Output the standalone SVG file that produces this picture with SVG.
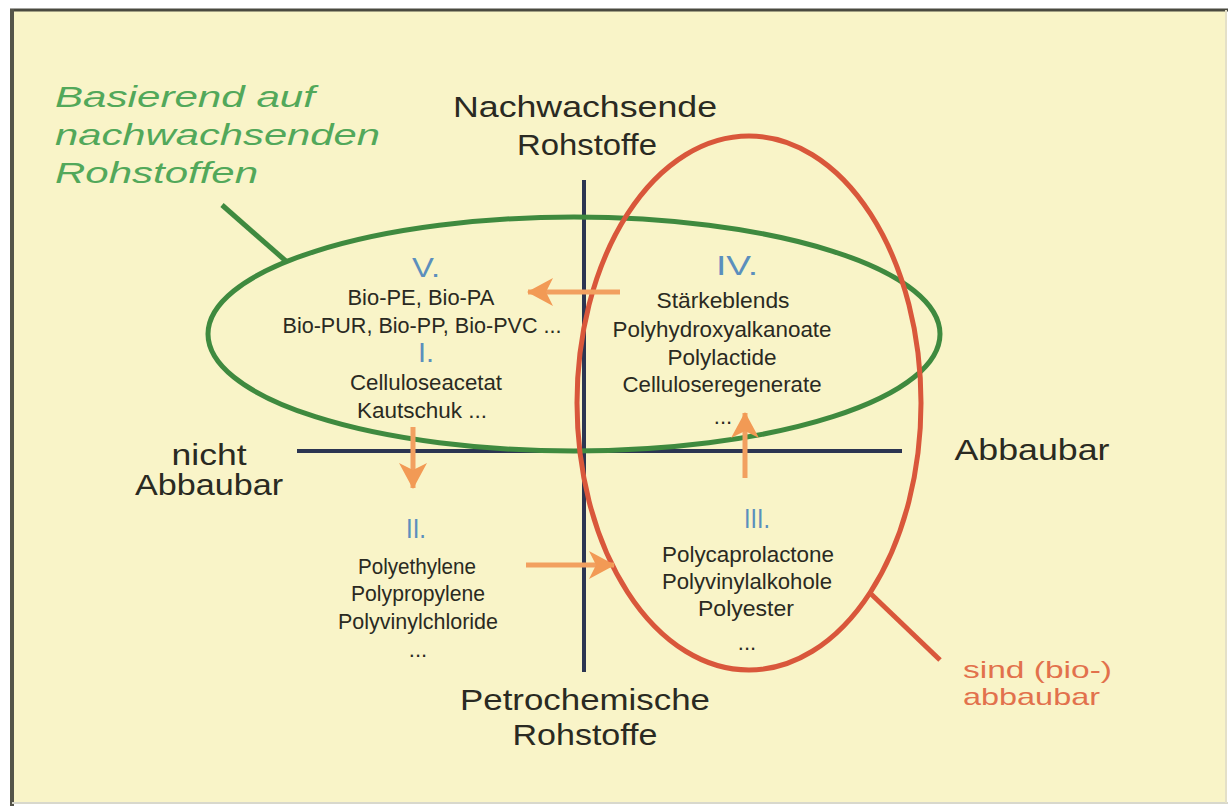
<svg xmlns="http://www.w3.org/2000/svg" width="1228" height="807" viewBox="0 0 1228 807">
<defs>
<style>
.ax{font-family:"Liberation Sans",Arial,sans-serif;font-size:30px;fill:#2a2a22;text-anchor:middle}
.it{font-family:"Liberation Sans Narrow","Liberation Sans",Arial,sans-serif;font-size:22px;fill:#2a2a22;text-anchor:middle}
.num{font-family:"Liberation Sans",Arial,sans-serif;font-size:28px;fill:#5b8fbd;text-anchor:middle}
.grn{font-family:"Liberation Sans",Arial,sans-serif;font-size:30px;font-style:italic;fill:#52a85a}
.red{font-family:"Liberation Sans",Arial,sans-serif;font-size:24px;fill:#e2714c}
.axis{stroke:#2c3552;stroke-width:4;fill:none}
.arr{stroke:#f2a060;stroke-width:5;fill:none;marker-end:url(#ah)}
</style>
<marker id="ah" viewBox="0 0 26 28" refX="25" refY="14" markerWidth="26" markerHeight="28" markerUnits="userSpaceOnUse" orient="auto">
<path d="M0,0 L26,14 L0,28 L7,14 z" fill="#f29a55"/>
</marker>
</defs>
<rect x="0" y="0" width="1228" height="807" fill="#ffffff"/>
<rect x="12" y="10" width="1214" height="793" fill="#f9f4c8"/>
<line x1="10" y1="10" x2="1228" y2="10" stroke="#4a4a40" stroke-width="3"/>
<line x1="12" y1="9" x2="12" y2="806" stroke="#55554a" stroke-width="4"/>
<line x1="12" y1="803" x2="1228" y2="803" stroke="#d8d8cc" stroke-width="2"/>
<line x1="1226" y1="10" x2="1226" y2="803" stroke="#e4e0c8" stroke-width="2"/>

<g id="axes">
<line class="axis" x1="584" y1="180" x2="584" y2="672"/>
<line class="axis" x1="297" y1="451" x2="902" y2="451"/>
</g>

<g id="set-renewable">
<ellipse cx="574" cy="334" rx="366" ry="117" fill="none" stroke="#3f8a3f" stroke-width="5"/>
</g>
<g id="set-degradable">
<ellipse cx="749" cy="403" rx="172" ry="267" fill="none" stroke="#d9573b" stroke-width="5"/>
</g>

<g id="connectors">
<line x1="222" y1="205" x2="287" y2="262" stroke="#3f8a3f" stroke-width="5"/>
<line x1="870" y1="593" x2="940" y2="660" stroke="#d9573b" stroke-width="5"/>
<line class="arr" x1="620" y1="292" x2="528" y2="292"/>
<line class="arr" x1="413" y1="427" x2="413" y2="488"/>
<line class="arr" x1="526" y1="565" x2="614" y2="565"/>
<line class="arr" x1="745" y1="478" x2="745" y2="413"/>
</g>

<g id="label-renewable">
<text class="grn" x="55" y="107" textLength="260" lengthAdjust="spacingAndGlyphs">Basierend auf</text>
<text class="grn" x="55" y="145" textLength="325" lengthAdjust="spacingAndGlyphs">nachwachsenden</text>
<text class="grn" x="55" y="183" textLength="203" lengthAdjust="spacingAndGlyphs">Rohstoffen</text>
</g>
<g id="label-degradable">
<text class="red" x="963" y="678" textLength="149" lengthAdjust="spacingAndGlyphs">sind (bio-)</text>
<text class="red" x="963" y="705" textLength="137" lengthAdjust="spacingAndGlyphs">abbaubar</text>
</g>

<g id="axis-top">
<text class="ax" x="585" y="117" textLength="264" lengthAdjust="spacingAndGlyphs">Nachwachsende</text>
<text class="ax" x="587" y="155" textLength="140" lengthAdjust="spacingAndGlyphs">Rohstoffe</text>
</g>
<g id="axis-bottom">
<text class="ax" x="585" y="710" textLength="250" lengthAdjust="spacingAndGlyphs">Petrochemische</text>
<text class="ax" x="585" y="745" textLength="145" lengthAdjust="spacingAndGlyphs">Rohstoffe</text>
</g>
<g id="axis-left">
<text class="ax" x="209" y="465" textLength="75" lengthAdjust="spacingAndGlyphs">nicht</text>
<text class="ax" x="209" y="495" textLength="148" lengthAdjust="spacingAndGlyphs">Abbaubar</text>
</g>
<g id="axis-right">
<text class="ax" x="1032" y="460" textLength="155" lengthAdjust="spacingAndGlyphs">Abbaubar</text>
</g>

<g id="node-V-I">
<text class="num" x="426" y="277" textLength="28" lengthAdjust="spacingAndGlyphs">V.</text>
<text class="it" x="421" y="305" textLength="147" lengthAdjust="spacingAndGlyphs">Bio-PE, Bio-PA</text>
<text class="it" x="422" y="333" textLength="279" lengthAdjust="spacingAndGlyphs">Bio-PUR, Bio-PP, Bio-PVC ...</text>
<text class="num" x="426" y="362" textLength="16" lengthAdjust="spacingAndGlyphs">I.</text>
<text class="it" x="426" y="390" textLength="152" lengthAdjust="spacingAndGlyphs">Celluloseacetat</text>
<text class="it" x="422" y="418" textLength="130" lengthAdjust="spacingAndGlyphs">Kautschuk ...</text>
</g>

<g id="node-IV">
<text class="num" x="737" y="275" textLength="42" lengthAdjust="spacingAndGlyphs">IV.</text>
<text class="it" x="723" y="308" textLength="133" lengthAdjust="spacingAndGlyphs">Stärkeblends</text>
<text class="it" x="722" y="337" textLength="219" lengthAdjust="spacingAndGlyphs">Polyhydroxyalkanoate</text>
<text class="it" x="722" y="365" textLength="109" lengthAdjust="spacingAndGlyphs">Polylactide</text>
<text class="it" x="722" y="392" textLength="199" lengthAdjust="spacingAndGlyphs">Celluloseregenerate</text>
<text class="it" x="723" y="424" font-size="14">...</text>
</g>

<g id="node-II">
<text class="num" x="416" y="538" textLength="20" lengthAdjust="spacingAndGlyphs">II.</text>
<text class="it" x="417" y="574" textLength="118" lengthAdjust="spacingAndGlyphs">Polyethylene</text>
<text class="it" x="418" y="601" textLength="134" lengthAdjust="spacingAndGlyphs">Polypropylene</text>
<text class="it" x="418" y="629" textLength="160" lengthAdjust="spacingAndGlyphs">Polyvinylchloride</text>
<text class="it" x="418" y="657" font-size="14">...</text>
</g>

<g id="node-III">
<text class="num" x="757" y="528" textLength="26" lengthAdjust="spacingAndGlyphs">III.</text>
<text class="it" x="748" y="562" textLength="172" lengthAdjust="spacingAndGlyphs">Polycaprolactone</text>
<text class="it" x="747" y="589" textLength="170" lengthAdjust="spacingAndGlyphs">Polyvinylalkohole</text>
<text class="it" x="746" y="616" textLength="96" lengthAdjust="spacingAndGlyphs">Polyester</text>
<text class="it" x="747" y="650" font-size="14">...</text>
</g>
</svg>
